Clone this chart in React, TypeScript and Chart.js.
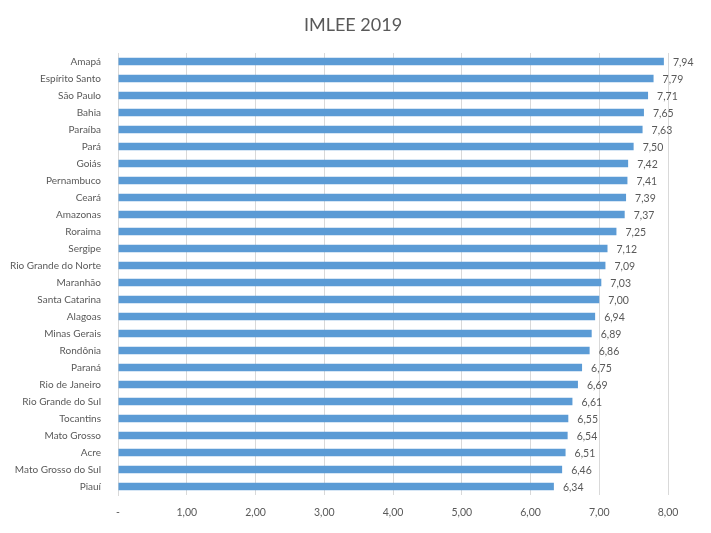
import React, { useEffect, useRef } from "react";
import { Chart, registerables, Plugin } from "chart.js";

Chart.register(...registerables);

const states = [
  "Amapá",
  "Espírito Santo",
  "São Paulo",
  "Bahia",
  "Paraíba",
  "Pará",
  "Goiás",
  "Pernambuco",
  "Ceará",
  "Amazonas",
  "Roraima",
  "Sergipe",
  "Rio Grande do Norte",
  "Maranhão",
  "Santa Catarina",
  "Alagoas",
  "Minas Gerais",
  "Rondônia",
  "Paraná",
  "Rio de Janeiro",
  "Rio Grande do Sul",
  "Tocantins",
  "Mato Grosso",
  "Acre",
  "Mato Grosso do Sul",
  "Piauí",
];

const scores = [
  7.94, 7.79, 7.71, 7.65, 7.63, 7.5, 7.42, 7.41, 7.39, 7.37, 7.25, 7.12, 7.09,
  7.03, 7.0, 6.94, 6.89, 6.86, 6.75, 6.69, 6.61, 6.55, 6.54, 6.51, 6.46, 6.34,
];

const xTicks = [0, 1, 2, 3, 4, 5, 6, 7, 8];

const chartTitle = "IMLEE 2019";

const fmt = (v: number) => (v === 0 ? "-" : v.toFixed(2).replace(".", ","));

const FONT = "Lato, 'Noto Sans', sans-serif";
const TEXT = "#595959";

// value labels at the end of each bar
const valueLabels: Plugin<"bar"> = {
  id: "valueLabels",
  afterDatasetsDraw(chart) {
    const ctx = chart.ctx;
    const meta = chart.getDatasetMeta(0);
    ctx.save();
    ctx.font = `10.5px ${FONT}`;
    ctx.fillStyle = TEXT;
    ctx.textAlign = "left";
    ctx.textBaseline = "middle";
    meta.data.forEach((bar, i) => {
      ctx.fillText(fmt(scores[i]), bar.x + 9, bar.y + 1);
    });
    ctx.restore();
  },
};

// title centred on the whole picture, not on the padded layout box
const titlePlugin: Plugin<"bar"> = {
  id: "pageTitle",
  afterDraw(chart) {
    const ctx = chart.ctx;
    ctx.save();
    ctx.font = `18px ${FONT}`;
    ctx.fillStyle = TEXT;
    ctx.textAlign = "center";
    ctx.textBaseline = "middle";
    ctx.fillText(chartTitle, 353, 25);
    ctx.restore();
  },
};

const App: React.FC = () => {
  const canvasRef = useRef<HTMLCanvasElement | null>(null);
  const chartRef = useRef<Chart | null>(null);

  useEffect(() => {
    document.body.style.margin = "0";
    if (!canvasRef.current) return;
    if (chartRef.current) chartRef.current.destroy();

    chartRef.current = new Chart(canvasRef.current, {
      type: "bar",
      data: {
        labels: states,
        datasets: [
          {
            label: chartTitle,
            data: scores,
            backgroundColor: "#5B9BD5",
            categoryPercentage: 1,
            barPercentage: 0.44,
          },
        ],
      },
      options: {
        indexAxis: "y",
        animation: false,
        responsive: false,
        maintainAspectRatio: false,
        layout: { padding: { left: 0, right: 43, top: 53, bottom: 0 } },
        plugins: {
          legend: { display: false },
          tooltip: { enabled: false },
          title: { display: false },
        },
        scales: {
          x: {
            min: 0,
            max: 8,
            afterBuildTicks: (scale) => {
              scale.ticks = xTicks.map((v) => ({ value: v }));
            },
            afterFit: (scale) => {
              scale.height = 38;
            },
            grid: { color: "#D9D9D9", drawTicks: false },
            border: { display: false },
            ticks: {
              color: TEXT,
              padding: 11,
              font: { family: FONT, size: 10.5 },
              callback: (v) => fmt(Number(v)),
            },
          },
          y: {
            afterFit: (scale) => {
              scale.width = 118;
            },
            grid: { display: false },
            border: { color: "#D9D9D9" },
            ticks: {
              color: TEXT,
              padding: 9,
              autoSkip: false,
              font: { family: FONT, size: 10 },
            },
          },
        },
      },
      plugins: [valueLabels, titlePlugin],
    });

    return () => {
      if (chartRef.current) {
        chartRef.current.destroy();
        chartRef.current = null;
      }
    };
  }, []);

  return (
    <div style={{ width: 711, height: 533, background: "#fff" }}>
      <canvas ref={canvasRef} width={711} height={533} />
    </div>
  );
};

export default App;
